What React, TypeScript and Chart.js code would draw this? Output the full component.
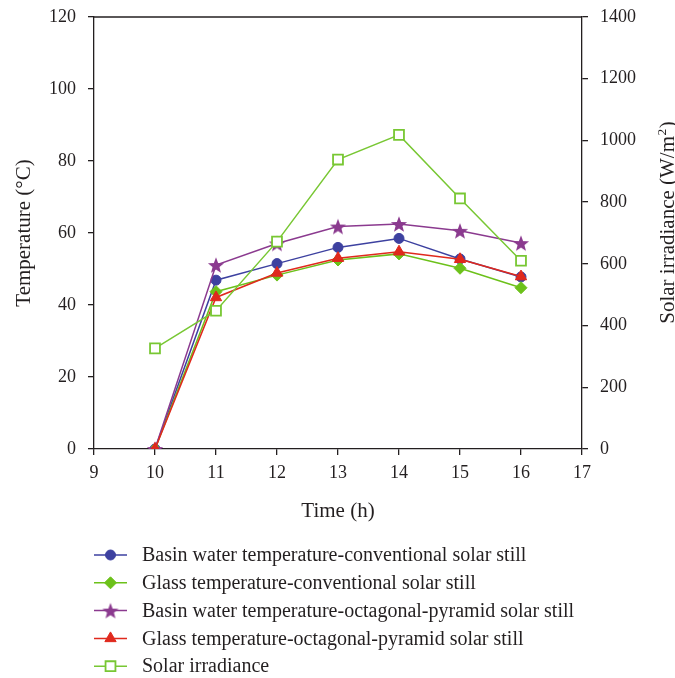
import React, { useEffect, useRef } from "react";
import { Chart, registerables } from "chart.js";
import { drawPoint } from "chart.js/helpers";

Chart.register(...registerables);

const hours = [10, 11, 12, 13, 14, 15, 16];
const basinConv = [0, 46.9, 51.5, 56.0, 58.5, 52.8, 47.8];
const glassConv = [0, 43.7, 48.3, 52.5, 54.2, 50.2, 44.8];
const basinOct = [0, 51.1, 57.1, 61.8, 62.5, 60.6, 57.2];
const glassOct = [0, 42.1, 48.9, 53.0, 54.8, 52.7, 47.9];
const solar = [326, 448, 672, 938, 1018, 812, 610];

const seriesLabels = [
  "Basin water temperature-conventional solar still",
  "Glass temperature-conventional solar still",
  "Basin water temperature-octagonal-pyramid solar still",
  "Glass temperature-octagonal-pyramid solar still",
  "Solar irradiance",
];

const xTitle = "Time (h)";
const yTitle = "Temperature (°C)";
const y1TitleMain = "Solar irradiance (W/m";
const y1TitleSup = "2";
const y1TitleEnd = ")";

const FONT = "'Liberation Serif', 'Times New Roman', serif";
const INK = "#231f20";
const TITLE_SIZE = 21;

function makeStar(color: string): HTMLCanvasElement {
  const c = document.createElement("canvas");
  const s = 18;
  c.width = s;
  c.height = s;
  const ctx = c.getContext("2d")!;
  const cx = s / 2, cy = s / 2 + 0.8, R = 8.5, r = 3.6;
  ctx.beginPath();
  for (let i = 0; i < 10; i++) {
    const rad = i % 2 === 0 ? R : r;
    const a = -Math.PI / 2 + (i * Math.PI) / 5;
    const x = cx + rad * Math.cos(a);
    const y = cy + rad * Math.sin(a);
    if (i === 0) ctx.moveTo(x, y);
    else ctx.lineTo(x, y);
  }
  ctx.closePath();
  ctx.fillStyle = color;
  ctx.fill();
  return c;
}

const toXY = (vals: number[]) => vals.map((v, i) => ({ x: hours[i], y: v }));

export default function App() {
  const ref = useRef<HTMLCanvasElement>(null);

  useEffect(() => {
    if (!ref.current) return;
    const star = makeStar("#8b3a8f");

    const framePlugin = {
      id: "frame",
      afterDatasetsDraw(chart: any) {
        const { ctx, chartArea } = chart;
        ctx.save();
        ctx.strokeStyle = INK;
        ctx.lineWidth = 1.3;
        ctx.beginPath();
        ctx.moveTo(chartArea.left, chartArea.top);
        ctx.lineTo(chartArea.right, chartArea.top);
        ctx.stroke();
        ctx.restore();
      },
    };

    const rightTitlePlugin = {
      id: "rightTitle",
      afterDraw(chart: any) {
        const { ctx, chartArea } = chart;
        const size = TITLE_SIZE;
        const supSize = 13.5;
        ctx.save();
        ctx.fillStyle = INK;
        ctx.textBaseline = "alphabetic";
        ctx.textAlign = "left";
        ctx.font = `${size}px ${FONT}`;
        const w1 = ctx.measureText(y1TitleMain).width;
        const w3 = ctx.measureText(y1TitleEnd).width;
        ctx.font = `${supSize}px ${FONT}`;
        const w2 = ctx.measureText(y1TitleSup).width;
        const total = w1 + w2 + w3;
        const cy = (chartArea.top + chartArea.bottom) / 2 - 10;
        ctx.translate(chart.width - 1, cy);
        ctx.rotate(-Math.PI / 2);
        let x = -total / 2;
        ctx.font = `${size}px ${FONT}`;
        ctx.fillText(y1TitleMain, x, 0);
        x += w1;
        ctx.font = `${supSize}px ${FONT}`;
        ctx.fillText(y1TitleSup, x + 0.5, -8);
        x += w2 + 1;
        ctx.font = `${size}px ${FONT}`;
        ctx.fillText(y1TitleEnd, x, 0);
        ctx.restore();
      },
    };

    const legendPlugin = {
      id: "customLegend",
      afterDraw(chart: any) {
        const { ctx, chartArea } = chart;
        const top = chartArea.bottom + 106;
        const step = 27.8;
        ctx.save();
        chart.data.datasets.forEach((ds: any, i: number) => {
          const y = top + i * step;
          ctx.strokeStyle = ds.borderColor;
          ctx.lineWidth = 1.5;
          ctx.beginPath();
          ctx.moveTo(94, y);
          ctx.lineTo(127, y);
          ctx.stroke();
          ctx.fillStyle = ds.pointBackgroundColor;
          ctx.strokeStyle = ds.pointBorderColor;
          ctx.lineWidth = ds.pointBorderWidth;
          drawPoint(ctx, { pointStyle: ds.pointStyle, radius: ds.pointRadius, rotation: 0, borderWidth: ds.pointBorderWidth }, 110.5, y);
          ctx.fillStyle = INK;
          ctx.font = `20px ${FONT}`;
          ctx.textBaseline = "middle";
          ctx.textAlign = "left";
          ctx.fillText(seriesLabels[i], 142, y + 1);
        });
        ctx.restore();
      },
    };

    const common = { borderWidth: 1.5, pointBorderWidth: 1, pointHoverRadius: 6 };
    const tickFont = { family: FONT, size: 18 };
    const gridOpts = { drawOnChartArea: false, drawTicks: true, tickLength: 6, color: INK, lineWidth: 1.3 };
    const borderOpts = { display: true, color: INK, width: 1.3 };
    const fitVertical = (w: number) => (scale: any) => {
      scale.width = w;
      scale.paddingTop = 8;
      scale.paddingBottom = 8;
    };

    const chart = new Chart(ref.current, {
      type: "line",
      data: {
        datasets: [
          {
            ...common,
            label: seriesLabels[0],
            data: toXY(basinConv),
            borderColor: "#3d41a0",
            pointBackgroundColor: "#3d41a0",
            pointBorderColor: "#3d41a0",
            pointStyle: "circle",
            pointRadius: 5,
            yAxisID: "y",
            order: 5,
          },
          {
            ...common,
            label: seriesLabels[1],
            data: toXY(glassConv),
            borderColor: "#6cc11a",
            pointBackgroundColor: "#6cc11a",
            pointBorderColor: "#6cc11a",
            pointStyle: "rectRot",
            pointRadius: 6,
            yAxisID: "y",
            order: 4,
          },
          {
            ...common,
            label: seriesLabels[2],
            data: toXY(basinOct),
            borderColor: "#8b3a8f",
            pointBackgroundColor: "#8b3a8f",
            pointBorderColor: "#8b3a8f",
            pointStyle: star as any,
            pointRadius: 7,
            yAxisID: "y",
            order: 3,
          },
          {
            ...common,
            label: seriesLabels[3],
            data: toXY(glassOct),
            borderColor: "#e0291d",
            pointBackgroundColor: "#e0291d",
            pointBorderColor: "#e0291d",
            pointStyle: "triangle",
            pointRadius: 6.5,
            yAxisID: "y",
            order: 2,
          },
          {
            ...common,
            label: seriesLabels[4],
            data: toXY(solar),
            borderColor: "#78c733",
            pointBackgroundColor: "#ffffff",
            pointBorderColor: "#78c733",
            pointBorderWidth: 1.8,
            pointStyle: "rect",
            pointRadius: 7,
            yAxisID: "y1",
            order: 1,
          },
        ],
      },
      options: {
        responsive: false,
        animation: false,
        layout: { padding: { top: 17, bottom: 154, left: 0, right: 0 } },
        plugins: { legend: { display: false }, tooltip: { enabled: false } },
        scales: {
          x: {
            type: "linear",
            min: 9,
            max: 17,
            ticks: { stepSize: 1, color: INK, font: tickFont, padding: 7 },
            grid: gridOpts,
            border: borderOpts,
            title: { display: true, text: xTitle, color: INK, font: { family: FONT, size: TITLE_SIZE }, padding: 0 },
            afterFit(scale: any) { scale.height = 75; },
          },
          y: {
            position: "left",
            min: 0,
            max: 120,
            ticks: { stepSize: 20, color: INK, font: tickFont, padding: 12 },
            grid: gridOpts,
            border: borderOpts,
            title: { display: true, text: yTitle, color: INK, font: { family: FONT, size: TITLE_SIZE, lineHeight: 1 }, padding: { top: 14, bottom: 0 } },
            afterFit: fitVertical(94),
          },
          y1: {
            position: "right",
            min: 0,
            max: 1400,
            ticks: { stepSize: 200, color: INK, font: tickFont, padding: 12, callback: (v: any) => String(v) },
            grid: gridOpts,
            border: borderOpts,
            title: { display: false },
            afterFit: fitVertical(93),
          },
        },
      } as any,
      plugins: [framePlugin, rightTitlePlugin, legendPlugin],
    });
    return () => chart.destroy();
  }, []);

  return (
    <div style={{ position: "absolute", left: 0, top: 0, width: 675, height: 678, background: "#fff" }}>
      <canvas ref={ref} width={675} height={678} />
    </div>
  );
}
